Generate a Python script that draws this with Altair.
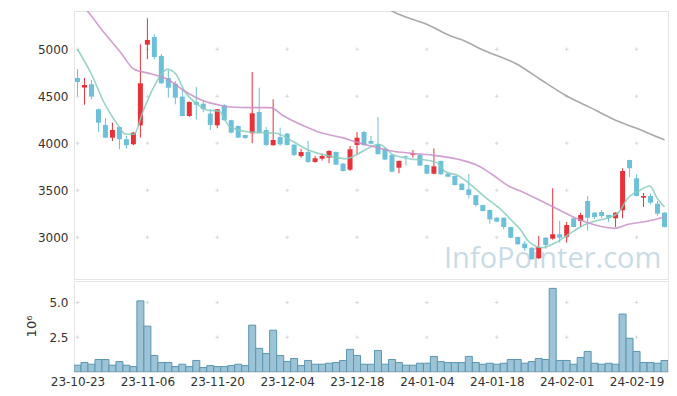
import altair as alt
import pandas as pd

# ---- data ----
opens = [4695, 4592, 4628, 4362, 4195, 4060, 4173, 4043, 3989, 4191,
         5049, 5131, 4929, 4695, 4634, 4496, 4290, 4439, 4421, 4315,
         4191, 4404, 4245, 4184, 4088, 4106, 4333, 4141, 3979, 4066,
         4103, 3985, 3864, 3907, 3801, 3836, 3847, 3907, 3783, 3719,
         3982, 4120, 4024, 3991, 3940, 3875, 3740, 3862, 3878, 3875,
         3769, 3676, 3812, 3676, 3652, 3570, 3510, 3447, 3343, 3290,
         3208, 3208, 3109, 3003, 2933, 2889, 2776, 2996, 2985, 3032,
         3006, 3201, 3173, 3386, 3262, 3269, 3237, 3202, 3287, 3822,
         3627, 3421, 3439, 3357, 3262]
highs = [4790, 4695, 4673, 4370, 4266, 4219, 4180, 4078, 4120, 5053,
         5330, 5160, 4950, 4787, 4663, 4570, 4445, 4599, 4450, 4362,
         4362, 4420, 4250, 4190, 4090, 4758, 4591, 4173, 4468, 4166,
         4110, 3990, 3942, 4024, 3865, 3890, 3928, 3912, 3790, 3971,
         4120, 4130, 4078, 4280, 3950, 3880, 3815, 3870, 3928, 3890,
         3775, 3945, 3815, 3685, 3655, 3575, 3673, 3450, 3345, 3295,
         3212, 3212, 3112, 3008, 2960, 2893, 3013, 3000, 3521, 3173,
         3162, 3210, 3262, 3439, 3265, 3290, 3240, 3265, 3734, 3825,
         3670, 3471, 3460, 3386, 3265]
lows = [4503, 4410, 4468, 4120, 4055, 4024, 3936, 3943, 3980, 4060,
        4894, 4894, 4630, 4485, 4415, 4285, 4280, 4255, 4330, 4141,
        4160, 4240, 4106, 4055, 4045, 4000, 4106, 3972, 3975, 3971,
        3978, 3865, 3847, 3793, 3793, 3815, 3787, 3770, 3700, 3705,
        3875, 3975, 3987, 3883, 3820, 3690, 3680, 3763, 3847, 3760,
        3670, 3670, 3665, 3640, 3550, 3498, 3412, 3325, 3275, 3144,
        3160, 3085, 2990, 2920, 2857, 2762, 2770, 2878, 2974, 2942,
        2942, 3105, 3109, 3071, 3195, 3205, 3160, 3109, 3202, 3641,
        3435, 3322, 3350, 3230, 3105]
closes = [4652, 4620, 4496, 4219, 4060, 4141, 4043, 3979, 4113, 4638,
          5099, 4918, 4638, 4591, 4485, 4290, 4439, 4410, 4362, 4195,
          4362, 4245, 4113, 4060, 4056, 4319, 4113, 3982, 4035, 3989,
          3982, 3875, 3907, 3801, 3840, 3865, 3918, 3772, 3705, 3936,
          4059, 3979, 3996, 3884, 3827, 3698, 3812, 3854, 3893, 3763,
          3676, 3755, 3670, 3644, 3556, 3503, 3450, 3343, 3279, 3191,
          3166, 3109, 2995, 2925, 2883, 2766, 2896, 2918, 3032, 2996,
          3130, 3109, 3237, 3208, 3216, 3226, 3208, 3262, 3705, 3734,
          3439, 3439, 3368, 3251, 3109]
volumes_m = [0.49, 0.68, 0.56, 0.90, 0.90, 0.49, 0.75, 0.49, 0.39, 5.12,
             3.30, 1.19, 0.68, 0.68, 0.39, 0.56, 0.39, 0.83, 0.32, 0.46,
             0.39, 0.39, 0.46, 0.56, 0.46, 3.37, 1.70, 1.33, 3.01, 1.19,
             0.75, 0.97, 0.46, 0.83, 0.56, 0.56, 0.63, 0.68, 0.83, 1.63,
             1.19, 0.56, 0.56, 1.55, 0.56, 0.90, 0.68, 0.49, 0.49, 0.63,
             0.63, 1.12, 0.75, 0.68, 0.68, 0.68, 1.12, 0.68, 0.56, 0.63,
             0.56, 0.63, 0.90, 0.90, 0.63, 0.75, 0.97, 0.90, 6.02, 0.83,
             0.83, 0.56, 1.04, 1.48, 0.63, 0.56, 0.63, 0.56, 4.17, 2.43,
             1.48, 0.68, 0.68, 0.63, 0.83]

ma5_x = [0, 2, 3.8, 5.7, 6.9, 8.1, 9.3, 11, 12.9, 14.1, 15.3, 17.2, 18.5, 20.3,
         21.7, 24.5, 28.4, 30.7, 33.1, 36, 38.4, 40.3, 42, 43, 44.3, 45, 46.7,
         47.9, 49.5, 51.4, 52.6, 54.5, 56.5, 58.4, 60.3, 62.2, 63.4, 64.5, 66.5,
         68.4, 70.3, 72.2, 74.1, 76, 77.4, 78.8, 80.3, 81.9, 82.9, 84]
ma5_y = [5000, 4734, 4432, 4202, 4096, 4096, 4325, 4610, 4787, 4734, 4556, 4415,
         4354, 4340, 4184, 4120, 4106, 4024, 3925, 3865, 3836, 3893, 3964, 3989,
         3936, 3883, 3847, 3829, 3825, 3794, 3700, 3655, 3545, 3421, 3315, 3173,
         3080, 2960, 2889, 2942, 3032, 3120, 3173, 3208, 3262, 3421, 3492, 3545,
         3421, 3322]
ma20_x = [0, 1.4, 3.8, 6.2, 8.1, 10.5, 12.9, 15.3, 18.1, 20.3, 22, 25, 27.6,
          29.5, 32.4, 34.1, 35.7, 37.9, 40, 42, 45, 47.5, 50.6, 54.5, 57.4, 59.3,
          61.7, 63.4, 65.5, 68.4, 71.2, 74.1, 76.9, 78.8, 81.7, 84]
ma20_y = [5513, 5407, 5177, 4964, 4787, 4740, 4681, 4556, 4450, 4407, 4385,
          4379, 4379, 4290, 4184, 4131, 4095, 4060, 4010, 3971, 3918, 3895,
          3875, 3829, 3758, 3670, 3545, 3492, 3418, 3312, 3208, 3130, 3095,
          3138, 3173, 3216]
ma60_x = [44, 45, 50.5, 53.4, 54.8, 58.1, 62.9, 66.2, 70, 73.4, 76.7, 80, 83.8, 84]
ma60_y = [5450, 5407, 5248, 5142, 5106, 4990, 4840, 4681, 4503, 4379, 4255,
          4159, 4042, 4036]

tick_idx = [0, 10, 20, 30, 40, 50, 60, 70, 80]
tick_labels = ["23-10-23", "23-11-06", "23-11-20", "23-12-04", "23-12-18",
               "24-01-04", "24-01-18", "24-02-01", "24-02-19"]
price_ticks = [3000, 3500, 4000, 4500, 5000]
vol_ticks = [2.5, 5.0]

# ---- tables ----
n = len(opens)
df = pd.DataFrame({"i": list(range(n)), "open": opens, "high": highs,
                   "low": lows, "close": closes, "vol": volumes_m})
df["dir"] = ["up" if c > o else "down" for o, c in zip(opens, closes)]

ma_tables = [
    (pd.DataFrame({"x": ma5_x, "v": ma5_y}), "#86cdbd"),
    (pd.DataFrame({"x": ma20_x, "v": ma20_y}), "#c98fc8"),
    (pd.DataFrame({"x": ma60_x, "v": ma60_y}), "#9a9a9a"),
]
grid_p = pd.DataFrame([(x, y) for x in tick_idx for y in price_ticks], columns=["x", "y"])
grid_v = pd.DataFrame([(x, y) for x in tick_idx for y in vol_ticks], columns=["x", "y"])

FONT = "DejaVu Sans"
xscale = alt.Scale(domain=[-0.5, n - 0.5], nice=False, zero=False, padding=0)
pscale = alt.Scale(domain=[2556, 5407], nice=False, zero=False, padding=0)
vscale = alt.Scale(domain=[0, 6.55], nice=False, zero=True, padding=0)
color = alt.Color("dir:N", scale=alt.Scale(domain=["up", "down"],
                                            range=["#e8323a", "#6cc0d8"]), legend=None)
cross = "M-1,0L1,0M0,-1L0,1"

px_axis = alt.Axis(values=price_ticks, format="d", grid=False, ticks=False,
                   domain=False, labelPadding=6, minExtent=60, maxExtent=60,
                   title=None)

base = alt.Chart(df)

wm = alt.Chart(pd.DataFrame({"t": ["InfoPointer.com"]})).mark_text(
    align="left", baseline="alphabetic", font="Open Sans", fontSize=29,
    color="#c9dbe5").encode(text="t:N", x=alt.value(370), y=alt.value(257))

gp = alt.Chart(grid_p).mark_point(shape=cross, size=14, color="#d9d9d9",
                                  strokeWidth=1, filled=False, opacity=1).encode(
    x=alt.X("x:Q", scale=xscale, axis=None),
    y=alt.Y("y:Q", scale=pscale, axis=px_axis))

wick = base.mark_rule(strokeWidth=1, clip=True).encode(
    x=alt.X("i:Q", scale=xscale, axis=None),
    y=alt.Y("low:Q", scale=pscale, axis=px_axis), y2="high:Q", color=color)
body = base.mark_bar(size=5, clip=True).encode(
    x=alt.X("i:Q", scale=xscale, axis=None),
    y=alt.Y("open:Q", scale=pscale, axis=px_axis), y2="close:Q", color=color)
lines = [
    alt.Chart(t).mark_line(strokeWidth=1.6, interpolate="monotone", clip=True,
                           opacity=0.85, color=c).encode(
        x=alt.X("x:Q", scale=xscale, axis=None),
        y=alt.Y("v:Q", scale=pscale, axis=px_axis))
    for t, c in ma_tables
]

price = alt.layer(wm, gp, wick, body, *lines).properties(width=594, height=268)

label_expr = "[" + ",".join("'%s'" % t for t in tick_labels) + "][round(datum.value/10)]"
vx_axis = alt.Axis(values=tick_idx, labelExpr=label_expr, ticks=False, domain=False,
                   grid=False, labelPadding=4, title=None, labelFlush=False,
                   labelOverlap=False)
vy_axis = alt.Axis(values=vol_ticks, format=".1f", grid=False, ticks=False,
                   domain=False, labelPadding=6, minExtent=60, maxExtent=60,
                   title="10⁶", titleFont=FONT, titleFontSize=13,
                   titleFontWeight="normal", titleColor="#333",
                   titleX=-36, titleY=45, titleAngle=270, titleAlign="center",
                   titleBaseline="bottom")

gv = alt.Chart(grid_v).mark_point(shape=cross, size=14, color="#d9d9d9",
                                  strokeWidth=1, filled=False, opacity=1).encode(
    x=alt.X("x:Q", scale=xscale, axis=vx_axis),
    y=alt.Y("y:Q", scale=vscale, axis=vy_axis))
vbars = base.mark_bar(size=7, fill="#9dc3d6", stroke="#5a96b3", strokeWidth=1,
                      fillOpacity=1, clip=True).encode(
    x=alt.X("i:Q", scale=xscale, axis=vx_axis),
    y=alt.Y("vol:Q", scale=vscale, axis=vy_axis))
volume = alt.layer(gv, vbars).properties(width=594, height=91)

chart = alt.vconcat(price, volume, spacing=0).properties(
    padding={"left": 5, "top": 2, "right": 0, "bottom": 0}
).configure_view(stroke="#e5e5e5").configure_axis(
    labelFont=FONT, labelFontSize=12, labelColor="#333")

chart.save("out.html", embed_options={"renderer": "svg", "actions": False})
